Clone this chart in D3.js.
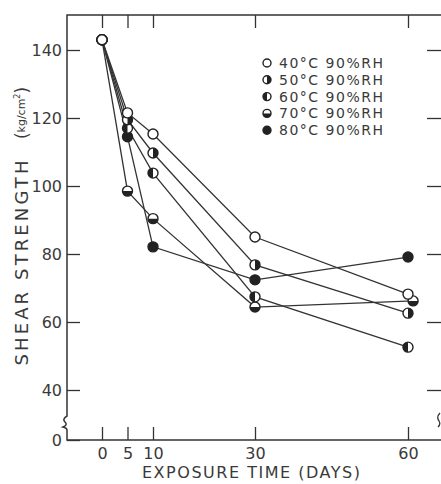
<!DOCTYPE html>
<html lang="en">
<head>
    <meta charset="UTF-8">
    <title>Shear strength</title>
    <script src="https://d3js.org/d3.v7.min.js"></script>
</head>
<body>
<div id='chart'>
    <svg></svg>
</div>
</body>

<style>
    body {
        margin: 0;
        background: #fff;
    }

    svg {
        display: block;
    }

    text {
        font-family: "DejaVu Sans", sans-serif;
        fill: #3a3a3a;
    }

    .tick line {
        stroke: #333;
        stroke-width: 1.3px;
    }

    path.series {
        fill: none;
        stroke: #333;
        stroke-width: 1.3px;
    }
</style>

<script>
    // values
    const labels = ['40°C 90%RH', '50°C 90%RH', '60°C 90%RH', '70°C 90%RH', '80°C 90%RH'];
    const days = [0, 5, 10, 30, 60];
    const days70 = [0, 5, 10, 30, 61];
    const s40 = [143, 121.5, 115.3, 85, 68.2];
    const s50 = [143, 119.5, 109.7, 76.8, 62.6];
    const s60 = [143, 117, 103.8, 67.4, 52.6];
    const s70 = [143, 98.5, 90.4, 64.4, 66.2];
    const s80 = [143, 114.5, 82.1, 72.4, 79.1];
    const xTicks = [0, 5, 10, 30, 60];
    const yTicks = [0, 40, 60, 80, 100, 120, 140];

    const width = 441, height = 484;
    const frameL = 67, frameR = 443, frameT = 15, frameB = 440;

    const svg = d3.select('svg')
        .attr('width', width)
        .attr('height', height);

    const x = d3.scaleLinear().domain([0, 60]).range([102, 408]);
    // axis is broken between 0 and 30
    const y = d3.scaleLinear().domain([0, 30, 140]).range([frameB, 424, 50]);

    const series = [
        {name: labels[0], fill: 'open', days: days, values: s40},
        {name: labels[1], fill: 'right', days: days, values: s50},
        {name: labels[2], fill: 'left', days: days, values: s60},
        {name: labels[3], fill: 'bottom', days: days70, values: s70},
        {name: labels[4], fill: 'full', days: days, values: s80}
    ];

    // frame
    svg.append('path')
        .attr('fill', 'none')
        .attr('stroke', '#333')
        .attr('stroke-width', 1.5)
        .attr('d', `M${frameR},${frameT} H${frameL} V416 Q62,419 65,422 Q68,425 63,427 Q67,428 ${frameL},430 V${frameB} H${frameR}`);

    svg.append('path')
        .attr('fill', 'none')
        .attr('stroke', '#333')
        .attr('stroke-width', 1.3)
        .attr('d', 'M440,413 Q436,417 439,421 Q441,424 438,427');

    // axes, ticks inward
    svg.append('g')
        .attr('transform', `translate(0,${frameB})`)
        .call(d3.axisBottom(x).tickValues(xTicks).tickSize(-13).tickPadding(8))
        .call(g => g.select('.domain').remove())
        .call(g => g.selectAll('text').style('font-size', '16px'));

    svg.append('g')
        .attr('transform', `translate(0,${frameT})`)
        .call(d3.axisTop(x).tickValues(xTicks).tickSize(-13).tickFormat(''))
        .call(g => g.select('.domain').remove());

    svg.append('g')
        .attr('transform', `translate(${frameL},0)`)
        .call(d3.axisLeft(y).tickValues(yTicks).tickSize(-13).tickPadding(5))
        .call(g => g.select('.domain').remove())
        .call(g => g.selectAll('text').style('font-size', '16px'));

    svg.append('g')
        .attr('transform', `translate(${frameR - 2},0)`)
        .call(d3.axisRight(y).tickValues(yTicks.slice(1)).tickSize(-14).tickFormat(''))
        .call(g => g.select('.domain').remove());

    // lines
    const line = d3.line()
        .x(d => x(d[0]))
        .y(d => y(d[1]));

    svg.append('g')
        .selectAll('path')
        .data(series)
        .join('path')
        .attr('class', 'series')
        .attr('d', s => line(s.values.map((v, i) => [s.days[i], v])));

    function halfPath(kind, r) {
        switch (kind) {
            case 'right':
                return `M0,${-r} A${r},${r} 0 0 1 0,${r} Z`;
            case 'left':
                return `M0,${-r} A${r},${r} 0 0 0 0,${r} Z`;
            case 'bottom':
                return `M${-r},0 A${r},${r} 0 0 0 ${r},0 Z`;
            case 'full':
                return `M${-r},0 A${r},${r} 0 1 0 ${r},0 A${r},${r} 0 1 0 ${-r},0 Z`;
            default:
                return null;
        }
    }

    function marker(g, kind, r) {
        g.append('circle')
            .attr('r', r)
            .attr('fill', '#fff')
            .attr('stroke', '#222')
            .attr('stroke-width', 1.4);
        const p = halfPath(kind, r);
        if (p) {
            g.append('path')
                .attr('d', p)
                .attr('fill', '#222');
        }
    }

    // markers, 40°C drawn last so its open circle sits on top at day 0
    series.slice().reverse().forEach(s => {
        s.values.forEach((v, i) => {
            const g = svg.append('g')
                .attr('transform', `translate(${x(s.days[i])},${y(v)})`);
            marker(g, s.fill, 5);
        });
    });

    // legend
    const legend = svg.append('g');
    series.forEach((s, i) => {
        const row = legend.append('g')
            .attr('transform', `translate(267,${63 + i * 16.8})`);
        marker(row, s.fill, 4);
        row.append('text')
            .attr('x', 12)
            .attr('dy', '0.36em')
            .attr('textLength', 104)
            .attr('lengthAdjust', 'spacing')
            .style('font-size', '14px')
            .text(s.name);
    });

    // axis titles
    svg.append('text')
        .attr('x', 251)
        .attr('y', 478)
        .attr('text-anchor', 'middle')
        .attr('textLength', 218)
        .attr('lengthAdjust', 'spacing')
        .style('font-size', '16px')
        .text('EXPOSURE TIME (DAYS)');

    svg.append('text')
        .attr('transform', 'translate(28,263) rotate(-90)')
        .attr('text-anchor', 'middle')
        .attr('textLength', 205)
        .attr('lengthAdjust', 'spacing')
        .style('font-size', '18px')
        .text('SHEAR STRENGTH');

    const unit = svg.append('text')
        .attr('transform', 'translate(28,113) rotate(-90)')
        .attr('text-anchor', 'middle')
        .style('font-size', '17px');
    unit.append('tspan').text('(');
    unit.append('tspan').style('font-size', '11px').attr('dy', -3).text('kg/cm');
    unit.append('tspan').style('font-size', '8px').attr('dy', -5).text('2');
    unit.append('tspan').attr('dy', 8).text(')');
</script>
</html>
